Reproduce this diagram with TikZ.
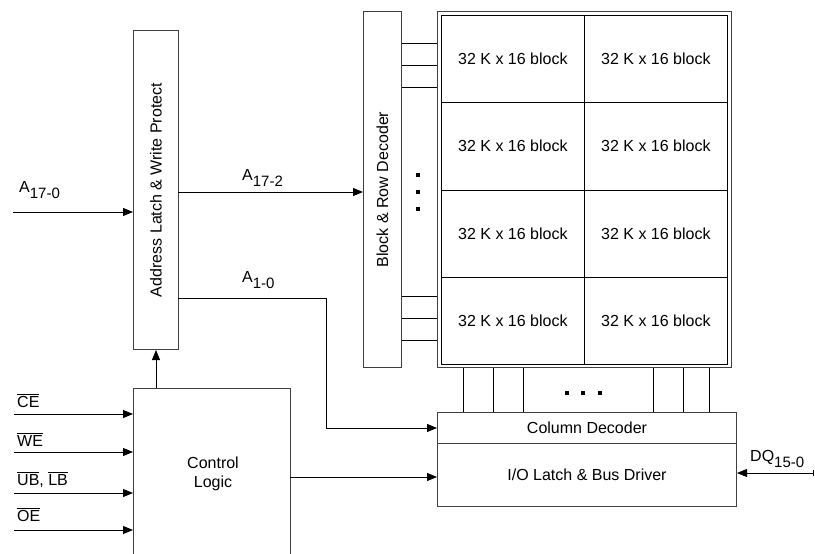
\documentclass[tikz,border=0pt]{standalone}
\usepackage{fontspec}
\setmainfont{Liberation Sans}
\usetikzlibrary{arrows.meta}
\newcommand{\sigsub}[2]{#1\raisebox{-6pt}{\fontsize{15}{15}\selectfont #2}}
\begin{document}
\begin{tikzpicture}[x=1pt,y=-1pt,
  box/.style={draw=black!75, line width=1pt, inner sep=0pt, anchor=north west},
  blk/.style={draw=black, line width=0.8pt, inner sep=0pt, anchor=north west, minimum width=143pt, minimum height=87.25pt, font=\fontsize{16}{18}\selectfont},
  ln/.style={line width=0.9pt},
  arr/.style={ln, -{Triangle[length=10pt,width=8pt]}},
  lbl/.style={font=\fontsize{16}{19}\selectfont, inner sep=0pt},
  dot/.style={fill=black, minimum size=4pt, inner sep=0pt}]
\useasboundingbox (0,0) rectangle (815,554);
\clip (0,0) rectangle (815,554);
% boxes
\node[box, minimum width=45pt, minimum height=319pt] (latch) at (133,30) {};
\node[lbl, rotate=90] at (latch.center) {Address Latch \& Write Protect};
\node[box, minimum width=38pt, minimum height=356pt] (dec) at (363,11) {};
\node[lbl, rotate=90] at (dec.center) {Block \& Row Decoder};
\node[box, minimum width=294pt, minimum height=356pt] (arr) at (437,11) {};
\node[box, minimum width=286pt, minimum height=349pt] (arrin) at (441,15) {};
\foreach \r in {0,1,2,3} {
  \node[blk] (bl\r) at (441,15+87.25*\r) {32 K x 16 block};
  \node[blk] (br\r) at (584,15+87.25*\r) {32 K x 16 block};
}
\node[box, minimum width=299pt, minimum height=31pt] (coldec) at (437,412) {};
\node[lbl] at (coldec.center) {Column Decoder};
\node[box, minimum width=299pt, minimum height=63pt] (io) at (437,443) {};
\node[lbl] at (io.center) {I/O Latch \& Bus Driver};
\node[box, minimum width=157pt, minimum height=180pt] (ctl) at (133,388) {};
\node[lbl, align=center] at (213,474) {Control\\Logic};
% decoder to array
\foreach \y in {43,65,87,296,318,340}
  \draw[ln] (dec.east |- 0,\y) -- (arr.west |- 0,\y);
\foreach \y in {175,192,209} \node[dot] at (418,\y) {};
% array to column decoder
\foreach \x in {463,493,523,653,683,709}
  \draw[ln] (arr.south -| \x,0) -- (coldec.north -| \x,0);
\foreach \x in {567,583,600} \node[dot] at (\x,393) {};
% address inputs
\coordinate (ain) at (13,212);
\draw[arr] (ain) -- (ain -| latch.west);
\node[lbl, anchor=base west] at (19,192) {\sigsub{A}{17-0}};
\coordinate (a2) at (178,192);
\draw[arr] (a2) -- (a2 -| dec.west);
\node[lbl, anchor=base west] at (242,180) {\sigsub{A}{17-2}};
\coordinate (a1) at (178,298);
\coordinate (a1b) at (326,298);
\draw[arr] (a1) -- (a1b) -- (a1b |- coldec.west) -- (coldec.west);
\node[lbl, anchor=base west] at (242,282) {\sigsub{A}{1-0}};
% control
\draw[arr] (latch.south |- ctl.north) -- (latch.south);
\coordinate (ce) at (14,414);
\coordinate (we) at (14,452);
\coordinate (ub) at (14,493);
\coordinate (oe) at (14,530);
\foreach \c in {ce,we,ub,oe} \draw[arr] (\c) -- (\c -| ctl.west);
\node[lbl, anchor=base west] at (17,407) {$\overline{\mbox{CE}}$};
\node[lbl, anchor=base west] at (17,446) {$\overline{\mbox{WE}}$};
\node[lbl, anchor=base west] at (17,485) {$\overline{\mbox{UB}}$, $\overline{\mbox{LB}}$};
\node[lbl, anchor=base west] at (17,521) {$\overline{\mbox{OE}}$};
\coordinate (c2) at (290,477);
\draw[arr] (c2) -- (c2 -| io.west);
% DQ
\coordinate (dq) at (814,473);
\draw[ln, {Bar[width=6pt]}-{Triangle[length=10pt,width=8pt]}] (dq) -- (dq -| io.east);
\node[lbl, anchor=base west] at (750,461) {\sigsub{DQ}{15-0}};
\end{tikzpicture}
\end{document}
